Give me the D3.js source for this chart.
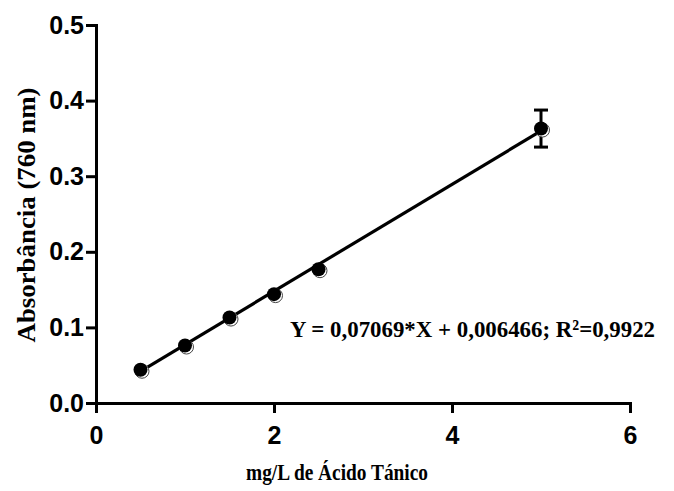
<!DOCTYPE html>
<html>
<head>
<meta charset="utf-8">
<script src="https://cdn.jsdelivr.net/npm/d3@7"></script>
<style>
  body { margin: 0; background: #fff; }
  .axis path, .axis line { stroke: #000; stroke-width: 3; }
  .axis text { font-family: "Liberation Sans", Arial, sans-serif; font-weight: bold; font-size: 25px; fill: #000; }
  .title { font-family: "Liberation Serif", "Times New Roman", serif; font-weight: bold; fill: #000; }
</style>
</head>
<body>
<svg width="674" height="491"></svg>
<script>
var svg = d3.select("svg");

// Data
var concentrations = [0.5, 1, 1.5, 2, 2.5, 5];
var absorbances = [0.044, 0.076, 0.113, 0.144, 0.177, 0.363];
var errors = [0, 0, 0, 0, 0, 0.0245];
var xTicks = [0, 2, 4, 6];
var yTicks = [0, 0.1, 0.2, 0.3, 0.4, 0.5];
var slope = 0.07069, intercept = 0.006466;

// Scales
var xScale = d3.scaleLinear().domain([0, 6]).range([96, 630]);
var yScale = d3.scaleLinear().domain([0, 0.5]).range([403, 25]);

// Axes
var xAxis = d3.axisBottom(xScale).tickValues(xTicks).tickSize(10).tickSizeOuter(0).tickPadding(13)
    .tickFormat(d3.format("d"));
var yAxis = d3.axisLeft(yScale).tickValues(yTicks).tickSize(10).tickSizeOuter(0).tickPadding(2)
    .tickFormat(d3.format(".1f"));

svg.append("g")
    .attr("class", "x axis")
    .attr("transform", "translate(0," + yScale(0) + ")")
    .call(xAxis);

svg.append("g")
    .attr("class", "y axis")
    .attr("transform", "translate(" + xScale(0) + ",0)")
    .call(yAxis);

svg.selectAll(".axis path").attr("stroke-linecap", "square");

// Regression line
var lineData = [d3.min(concentrations), d3.max(concentrations)];
svg.append("line")
    .attr("x1", xScale(lineData[0]))
    .attr("y1", yScale(slope * lineData[0] + intercept))
    .attr("x2", xScale(lineData[1]))
    .attr("y2", yScale(slope * lineData[1] + intercept))
    .attr("stroke", "#000")
    .attr("stroke-width", 3.2);

var data = concentrations.map((c, i) => ({ x: c, y: absorbances[i], e: errors[i] }));

// Error bars
var eb = svg.selectAll(".err").data(data.filter(d => d.e > 0)).enter().append("g").attr("class", "err");
eb.append("line")
    .attr("x1", d => xScale(d.x)).attr("x2", d => xScale(d.x))
    .attr("y1", d => yScale(d.y - d.e)).attr("y2", d => yScale(d.y + d.e))
    .attr("stroke", "#000").attr("stroke-width", 3);
[-1, 1].forEach(s => {
    eb.append("line")
        .attr("x1", d => xScale(d.x) - 7).attr("x2", d => xScale(d.x) + 7)
        .attr("y1", d => yScale(d.y + s * d.e)).attr("y2", d => yScale(d.y + s * d.e))
        .attr("stroke", "#000").attr("stroke-width", 3);
});

// Points (with the little offset shadow ring)
svg.selectAll(".shadow").data(data).enter().append("circle")
    .attr("class", "shadow")
    .attr("cx", d => xScale(d.x) + 1.5)
    .attr("cy", d => yScale(d.y) + 1.5)
    .attr("r", 7)
    .attr("fill", "#fff")
    .attr("stroke", "#444")
    .attr("stroke-width", 1);

svg.selectAll(".dot").data(data).enter().append("circle")
    .attr("class", "dot")
    .attr("cx", d => xScale(d.x))
    .attr("cy", d => yScale(d.y))
    .attr("r", 7)
    .attr("fill", "#000");

// Equation
svg.append("text")
    .attr("class", "title")
    .attr("x", 290)
    .attr("y", 337)
    .style("font-size", "24px")
    .attr("textLength", 365)
    .attr("lengthAdjust", "spacingAndGlyphs")
    .text("Y = 0,07069*X + 0,006466; R²=0,9922");

// Axis titles
svg.append("text")
    .attr("class", "title")
    .attr("x", 337)
    .attr("y", 480)
    .style("text-anchor", "middle")
    .style("font-size", "23px")
    .attr("textLength", 182)
    .attr("lengthAdjust", "spacingAndGlyphs")
    .text("mg/L de Ácido Tánico");

svg.append("text")
    .attr("class", "title")
    .attr("transform", "translate(35," + 215 + ") rotate(-90)")
    .style("text-anchor", "middle")
    .style("font-size", "25px")
    .attr("textLength", 255)
    .attr("lengthAdjust", "spacingAndGlyphs")
    .text("Absorbância (760 nm)");
</script>
</body>
</html>
